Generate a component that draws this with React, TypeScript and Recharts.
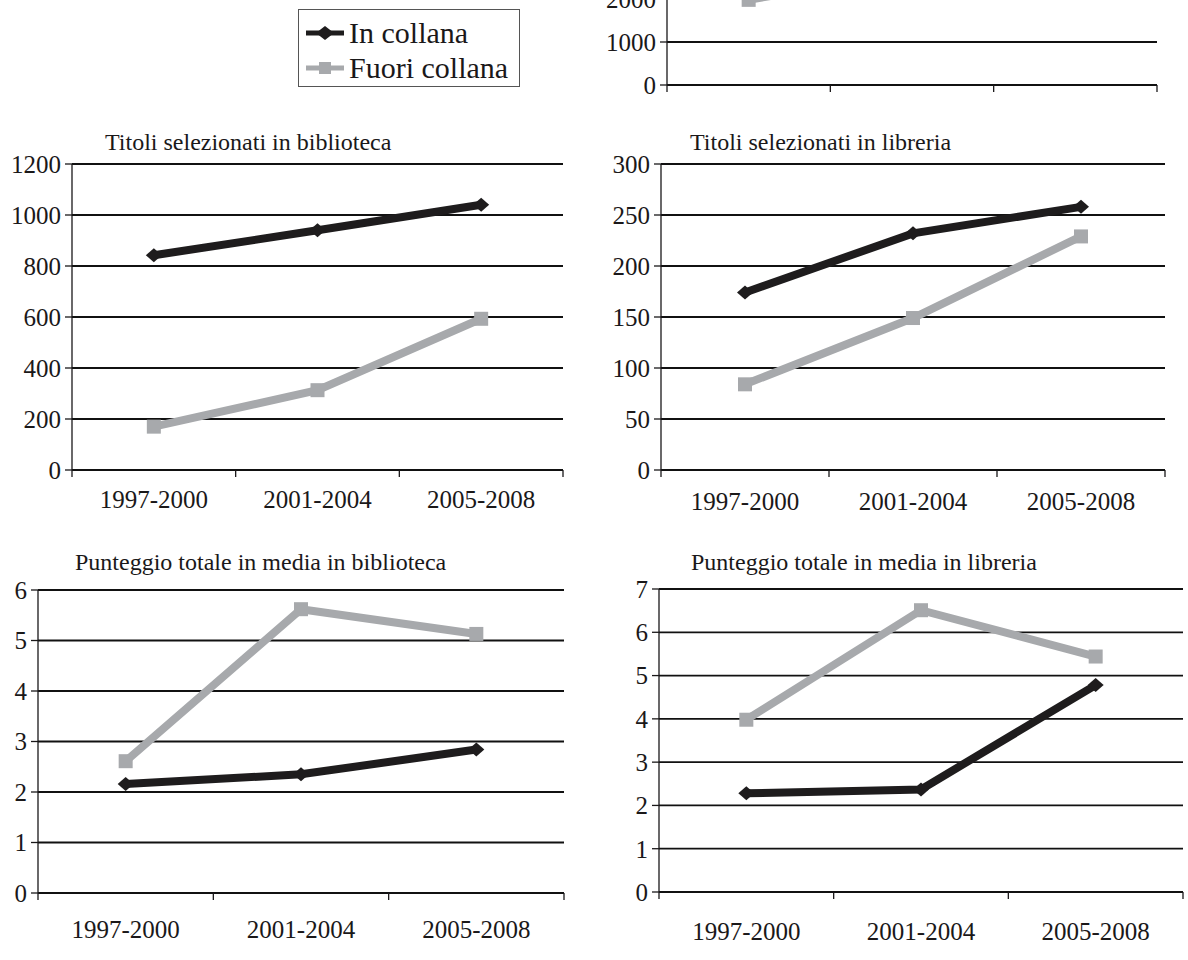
import { LineChart, Line, XAxis, YAxis, CartesianGrid } from "recharts";

const categories = ["1997-2000", "2001-2004", "2005-2008"];
const seriesNames = ["In collana", "Fuori collana"];

// top chart is cut off by the page edge, only its lower part shows
const topIn = [3000, 3500, 4000];
const topFuori = [1980, 2650, 3300];
const topTicks = [0, 1000, 2000, 3000, 4000];

const bibTitoliIn = [842, 940, 1040];
const bibTitoliFuori = [170, 313, 593];
const bibTitoliTicks = [0, 200, 400, 600, 800, 1000, 1200];

const libTitoliIn = [174, 232, 258];
const libTitoliFuori = [84, 149, 229];
const libTitoliTicks = [0, 50, 100, 150, 200, 250, 300];

const bibPuntIn = [2.16, 2.35, 2.84];
const bibPuntFuori = [2.61, 5.62, 5.13];
const bibPuntTicks = [0, 1, 2, 3, 4, 5, 6];

const libPuntIn = [2.28, 2.37, 4.78];
const libPuntFuori = [3.98, 6.51, 5.44];
const libPuntTicks = [0, 1, 2, 3, 4, 5, 6, 7];

const FONT = '"Liberation Serif", "DejaVu Serif", serif';
const INK = "#1a1819";
const BLACK = "#1e1c1d";
const GRAY = "#a7a9ac";

function Diamond(props: any) {
  const { cx, cy } = props;
  if (cx == null || cy == null) return null;
  const r = 8;
  return (
    <polygon
      points={`${cx - r},${cy} ${cx},${cy - r + 1} ${cx + r},${cy} ${cx},${cy + r - 1}`}
      fill={BLACK}
    />
  );
}

function Square(props: any) {
  const { cx, cy } = props;
  if (cx == null || cy == null) return null;
  const s = 7;
  return <rect x={cx - s} y={cy - s} width={s * 2} height={s * 2} fill={GRAY} />;
}

interface PanelProps {
  plotLeft: number;
  plotTop: number;
  plotWidth: number;
  plotHeight: number;
  inVals: number[];
  fuoriVals: number[];
  yTicks: number[];
  labelOffset: number;
  showLabels?: boolean;
}

function Panel({ plotLeft, plotTop, plotWidth, plotHeight, inVals, fuoriVals, yTicks, labelOffset, showLabels = true }: PanelProps) {
  const W = 90;
  const T = 14;
  const R = 14;
  const B = 70;
  const data = categories.map((c, i) => ({ x: i + 0.5, name: c, inCollana: inVals[i], fuori: fuoriVals[i] }));
  const xTicks = [0, 0.5, 1, 1.5, 2, 2.5, 3];

  const CatTick = (props: any) => {
    const { x, y, payload } = props;
    const v = payload.value as number;
    if (Number.isInteger(v)) {
      return <line x1={x} x2={x} y1={y} y2={y + 7} stroke={INK} strokeWidth={1.3} />;
    }
    if (!showLabels) return <g />;
    return (
      <text x={x} y={y + labelOffset} textAnchor="middle" fontFamily={FONT} fontSize={25} fill={INK}>
        {categories[Math.floor(v)]}
      </text>
    );
  };

  return (
    <div style={{ position: "absolute", left: plotLeft - W, top: plotTop - T }}>
      <LineChart
        width={W + plotWidth + R}
        height={T + plotHeight + B}
        data={data}
        margin={{ top: T, right: R, left: 0, bottom: 0 }}
      >
        <CartesianGrid vertical={false} stroke="#111" strokeWidth={1.8} />
        <XAxis
          dataKey="x"
          type="number"
          domain={[0, 3]}
          ticks={xTicks}
          interval={0}
          height={B}
          axisLine={false}
          tickLine={false}
          tickSize={0}
          tickMargin={0}
          tick={CatTick}
        />
        <YAxis
          type="number"
          domain={[yTicks[0], yTicks[yTicks.length - 1]]}
          ticks={yTicks}
          interval={0}
          width={W}
          axisLine={{ stroke: INK, strokeWidth: 1.3 }}
          tickLine={{ stroke: INK, strokeWidth: 1.3 }}
          tickSize={7}
          tickMargin={4}
          tick={{ fontSize: 25, fontFamily: FONT, fill: INK }}
        />
        <Line
          type="linear"
          dataKey="fuori"
          name={seriesNames[1]}
          stroke={GRAY}
          strokeWidth={8}
          dot={(p: any) => <Square key={`s-${p.index}`} {...p} />}
          isAnimationActive={false}
        />
        <Line
          type="linear"
          dataKey="inCollana"
          name={seriesNames[0]}
          stroke={BLACK}
          strokeWidth={8}
          dot={(p: any) => <Diamond key={`d-${p.index}`} {...p} />}
          isAnimationActive={false}
        />
      </LineChart>
    </div>
  );
}

function Title({ text, left, top }: { text: string; left: number; top: number }) {
  return (
    <div
      style={{
        position: "absolute",
        left,
        top,
        fontFamily: FONT,
        fontSize: 24,
        color: INK,
        whiteSpace: "nowrap",
        lineHeight: "28px",
      }}
    >
      {text}
    </div>
  );
}

function Legend() {
  const row = (i: number) => (
    <div style={{ display: "flex", alignItems: "center", height: 35 }}>
      <svg width={42} height={20} style={{ marginRight: 3 }}>
        {i === 0 ? (
          <>
            <line x1={2} x2={40} y1={10} y2={10} stroke={BLACK} strokeWidth={5} />
            <polygon points="12,10 21,3 30,10 21,17" fill={BLACK} />
          </>
        ) : (
          <>
            <line x1={2} x2={40} y1={10} y2={10} stroke={GRAY} strokeWidth={5} />
            <rect x={15} y={4} width={12} height={12} fill={GRAY} />
          </>
        )}
      </svg>
      <span style={{ fontFamily: FONT, fontSize: 30, color: INK, lineHeight: "32px" }}>{seriesNames[i]}</span>
    </div>
  );
  return (
    <div
      style={{
        position: "absolute",
        left: 298,
        top: 9,
        width: 222,
        height: 78,
        border: "1px solid #555",
        boxSizing: "border-box",
        paddingLeft: 5,
        paddingTop: 5,
        background: "#fff",
      }}
    >
      {row(0)}
      {row(1)}
    </div>
  );
}

export default function App() {
  return (
    <div style={{ position: "absolute", left: 0, top: 0, width: 1188, height: 960, overflow: "hidden", background: "#fff" }}>
      <Panel plotLeft={667} plotTop={-87} plotWidth={490} plotHeight={172} inVals={topIn} fuoriVals={topFuori} yTicks={topTicks} labelOffset={38} showLabels={false} />
      <Legend />

      <Title text="Titoli selezionati in biblioteca" left={105} top={128} />
      <Panel plotLeft={72} plotTop={164} plotWidth={491} plotHeight={306} inVals={bibTitoliIn} fuoriVals={bibTitoliFuori} yTicks={bibTitoliTicks} labelOffset={38} />

      <Title text="Titoli selezionati in libreria" left={690} top={128} />
      <Panel plotLeft={661} plotTop={164} plotWidth={504} plotHeight={306} inVals={libTitoliIn} fuoriVals={libTitoliFuori} yTicks={libTitoliTicks} labelOffset={40} />

      <Title text="Punteggio totale in media in biblioteca" left={75} top={548} />
      <Panel plotLeft={38} plotTop={590} plotWidth={526} plotHeight={303} inVals={bibPuntIn} fuoriVals={bibPuntFuori} yTicks={bibPuntTicks} labelOffset={45} />

      <Title text="Punteggio totale in media in libreria" left={691} top={548} />
      <Panel plotLeft={659} plotTop={589} plotWidth={524} plotHeight={303} inVals={libPuntIn} fuoriVals={libPuntFuori} yTicks={libPuntTicks} labelOffset={48} />
    </div>
  );
}
